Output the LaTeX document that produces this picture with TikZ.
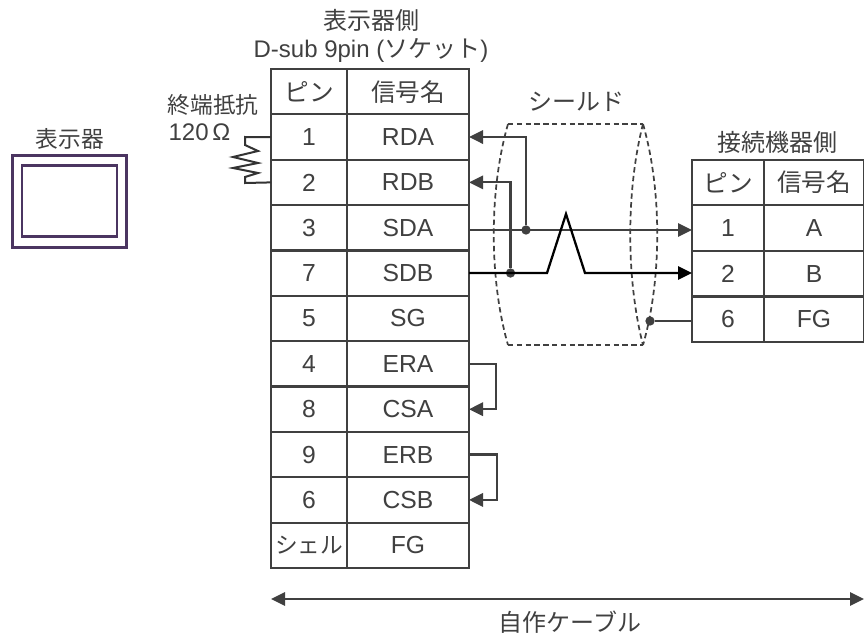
\documentclass[tikz,border=0pt]{standalone}
\usepackage{fontspec}
\setmainfont{Liberation Sans}
\newfontfamily\jp{Noto Sans CJK JP}
\usetikzlibrary{calc, arrows.meta}
\definecolor{inkgray}{HTML}{404040}
\definecolor{boxpurple}{HTML}{4B3561}
\tikzset{
    label text/.style={text=inkgray,font=\fontsize{18}{21}\selectfont,inner sep=0pt},
    cell/.style={label text,font=\fontsize{18.5}{21}\selectfont,draw=inkgray,line width=1.6pt,minimum height=34pt,outer sep=0pt},
    pin cell/.style={cell,minimum width=57pt},
    sig cell/.style={cell,minimum width=91.5pt},
    wire/.style={draw=inkgray,line width=1.6pt},
    tip/.style={-{Triangle[length=10.5pt,width=10pt]}},
    dot/.style={circle,fill=inkgray,minimum size=7pt,inner sep=0pt,outer sep=0pt},
    shield/.style={draw=inkgray,line width=1.3pt,dash pattern=on 4pt off 2.6pt},
}
\begin{document}
\begin{tikzpicture}[x=0.75pt,y=-0.75pt]
    \useasboundingbox (0,0) rectangle (864,635);
    \node[label text,font=\fontsize{17}{20}\selectfont] (dispname) at (70,139) {\jp 表示器};
    \node[draw=boxpurple,line width=2.4pt,minimum width=85.5pt,minimum height=68.5pt] (dispouter) at (69.5,201.5) {};
    \node[draw=boxpurple,line width=1.9pt,minimum width=71pt,minimum height=53pt] (dispinner) at (69.5,201) {};

    \node[label text] (sidea) at (371,20) {\jp 表示器側};
    \node[label text] (sockname) at (371,50) {D-sub 9pin ({\jp ソケット})};
    \foreach \n/\p/\s [count=\i] in {h/{\jp ピン}/{\jp 信号名},a/1/RDA,b/2/RDB,c/3/SDA,d/7/SDB,e/5/SG,f/4/ERA,g/8/CSA,k/9/ERB,m/6/CSB,z/{\jp\fontsize{17}{20}\selectfont シェル}/FG}{
        \node[pin cell] (lp\n) at (309,{69+45.36*(\i-0.5)}) {\p};
        \node[sig cell] (ls\n) at (408,{69+45.36*(\i-0.5)}) {\s};
    }

    \node[label text] (sideb) at (777,142) {\jp 接続機器側};
    \foreach \n/\p/\s [count=\i] in {h/{\jp ピン}/{\jp 信号名},a/1/A,b/2/B,c/6/FG}{
        \node[pin cell,minimum width=54pt] (rp\n) at (728,{159.5+45.7*(\i-0.5)}) {\p};
        \node[cell,minimum width=75pt] (rs\n) at (814,{159.5+45.7*(\i-0.5)}) {\s};
    }

    \node[label text,font=\fontsize{17}{20}\selectfont] (termname) at (213,105) {\jp 終端抵抗};
    \node[label text] (termval) at (199.5,132) {120$\,$Ω};
    \coordinate (rtop) at (245,137);
    \coordinate (rbot) at (245,183);
    \draw[draw=black!80,line width=1.5pt] (lpa.west) -- (rtop) -- (245,145) -- (258,151) -- (233,157) -- (258,163) -- (233,168) -- (258,173) -- (245,177) -- (rbot) -- (lpb.west);

    \draw[shield] (508,124) -- (643,124);
    \draw[shield] (508,345) -- (643,345);
    \draw[shield] (508,124) .. controls (489,190) and (489,279) .. (508,345);
    \draw[shield] (643,124) .. controls (626,190) and (626,279) .. (643,345);
    \draw[shield] (643,124) .. controls (662,190) and (662,279) .. (643,345);
    \node[label text] (shieldname) at (576,102) {\jp シールド};

    \node[dot] (da) at (526,230) {};
    \node[dot] (db) at (510.5,273) {};
    \node[dot] (dg) at (650,321) {};
    \draw[wire,tip] (da) |- (lsa.east);
    \draw[wire,tip] (db) |- (lsb.east);
    \draw[wire,tip] (lsc.east |- da) -- (rpa.west |- da);
    \draw[line width=1.7pt,tip] (lsd.east |- db) -- (547,273) -- (566,214) -- (585,273) -- (rpb.west |- db);
    \draw[wire] (dg) -- (rpc.west |- dg);

    \draw[wire,tip] (lsf.east) -- ++(27,0) |- (lsg.east);
    \draw[wire,tip] (lsk.east) -- ++(28,0) |- (lsm.east);

    \coordinate (cableleft) at (271,599);
    \coordinate (cableright) at (864,599);
    \draw[wire,{Triangle[length=10.5pt,width=10pt]}-{Triangle[length=10.5pt,width=10pt]}] (cableleft) -- (cableright);
    \node[label text] (cablename) at (570,622) {\jp 自作ケーブル};
\end{tikzpicture}
\end{document}
